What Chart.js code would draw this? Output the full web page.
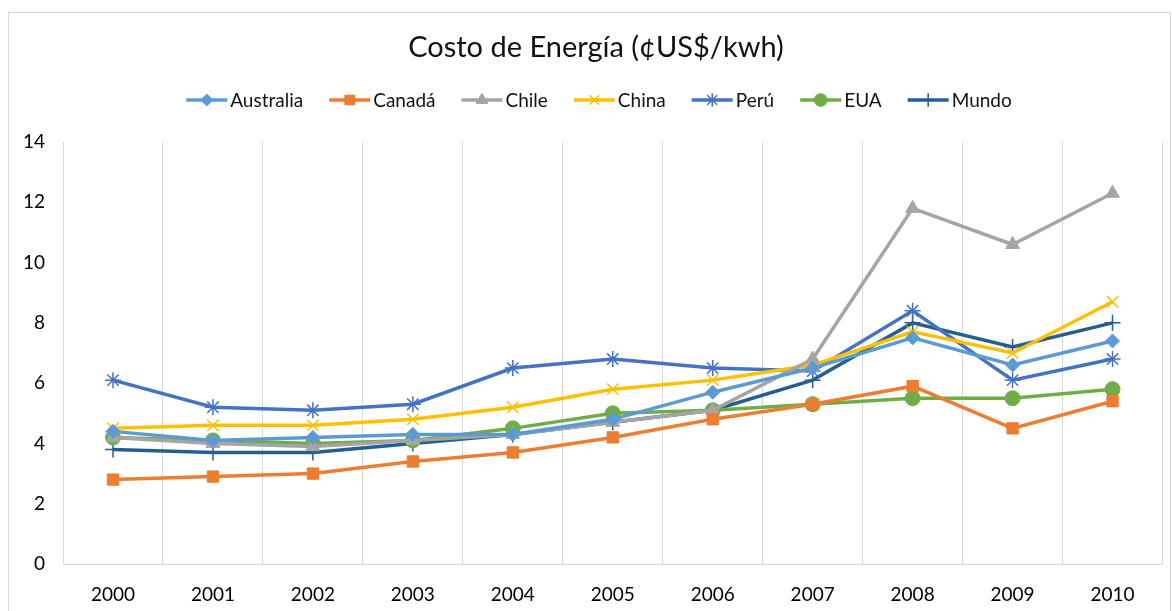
<!DOCTYPE html>
<html>
<head>
<meta charset="utf-8">
<script src="https://cdn.jsdelivr.net/npm/chart.js@4/dist/chart.umd.min.js"></script>
<style>
  html, body { margin: 0; padding: 0; background: #fff; }
  #wrap { position: relative; width: 1172px; height: 611px; }
</style>
</head>
<body>
<div id="wrap"><canvas id="c" width="1172" height="611"></canvas></div>
<script>
// Energy cost per country, cents of US$ per kWh
const years = ['2000','2001','2002','2003','2004','2005','2006','2007','2008','2009','2010'];
const australia = [4.4, 4.1, 4.2, 4.3, 4.3, 4.8, 5.7, 6.5, 7.5, 6.6, 7.4];
const canada    = [2.8, 2.9, 3.0, 3.4, 3.7, 4.2, 4.8, 5.3, 5.9, 4.5, 5.4];
const chile     = [4.2, 4.0, 3.9, 4.1, 4.3, 4.7, 5.1, 6.8, 11.8, 10.6, 12.3];
const china     = [4.5, 4.6, 4.6, 4.8, 5.2, 5.8, 6.1, 6.6, 7.7, 7.0, 8.7];
const peru      = [6.1, 5.2, 5.1, 5.3, 6.5, 6.8, 6.5, 6.4, 8.4, 6.1, 6.8];
const eua       = [4.2, 4.1, 4.0, 4.1, 4.5, 5.0, 5.1, 5.3, 5.5, 5.5, 5.8];
const mundo     = [3.8, 3.7, 3.7, 4.0, 4.3, 4.7, 5.1, 6.1, 8.0, 7.2, 8.0];
const yTicks    = [0, 2, 4, 6, 8, 10, 12, 14];

const FONT = 'Lato, "Open Sans", sans-serif';

function series(label, data, color, style, radius, bw) {
  return {
    label, data,
    borderColor: color,
    backgroundColor: color,
    pointBackgroundColor: color,
    pointBorderColor: color,
    pointStyle: style,
    pointRadius: radius,
    pointBorderWidth: bw,
    borderWidth: 3.5,
    tension: 0,
    fill: false
  };
}

const datasets = [
  series('Australia', australia, '#5B9BD5', 'rectRot', 7, 1),
  series('Canadá',   canada,    '#ED7D31', 'rect',    8, 1),
  series('Chile',    chile,     '#A5A5A5', 'triangle',8, 1),
  series('China',    china,     '#FFC000', 'crossRot',8, 1.5),
  series('Perú',     peru,      '#4472C4', 'star',    8, 1.5),
  series('EUA',      eua,       '#70AD47', 'circle',  7.5, 1),
  series('Mundo',    mundo,     '#255E91', 'cross',   8, 1.5)
];

// Frame, title and line-with-marker legend
const decor = {
  id: 'decor',
  beforeDraw(chart) {
    const ctx = chart.ctx;
    ctx.save();
    ctx.fillStyle = '#fff';
    ctx.fillRect(0, 0, chart.width, chart.height);
    ctx.strokeStyle = '#d9d9d9';
    ctx.lineWidth = 1;
    ctx.strokeRect(8.5, 12.5, 1162, 610);
    ctx.restore();
  },
  afterDraw(chart) {
    const ctx = chart.ctx;
    ctx.save();
    ctx.fillStyle = '#111';
    ctx.font = '29px ' + FONT;
    ctx.textAlign = 'center';
    ctx.textBaseline = 'middle';
    ctx.fillText('Costo de Energía (¢US$/kwh)', 596, 48);

    ctx.font = '19px ' + FONT;
    ctx.textAlign = 'left';
    const lineW = 41, gapT = 3, gapItem = 26;
    const items = chart.data.datasets.map(d => ({ d, w: ctx.measureText(d.label).width }));
    const total = items.reduce((s, it) => s + lineW + gapT + it.w, 0) + gapItem * (items.length - 1);
    let x = 599 - total / 2;
    const y = 100;
    items.forEach(({ d, w }) => {
      ctx.strokeStyle = d.borderColor;
      ctx.fillStyle = d.borderColor;
      ctx.lineWidth = 3.5;
      ctx.beginPath();
      ctx.moveTo(x, y);
      ctx.lineTo(x + lineW, y);
      ctx.stroke();
      ctx.lineWidth = d.pointBorderWidth;
      Chart.helpers.drawPoint(ctx, {
        pointStyle: d.pointStyle,
        radius: d.pointRadius * 0.85,
        rotation: 0,
        borderWidth: d.pointBorderWidth
      }, x + lineW / 2, y);
      ctx.fillStyle = '#111';
      ctx.fillText(d.label, x + lineW + gapT, y + 1);
      x += lineW + gapT + w + gapItem;
    });
    ctx.restore();
  }
};

new Chart(document.getElementById('c'), {
  type: 'line',
  data: { labels: years, datasets },
  plugins: [decor],
  options: {
    responsive: false,
    animation: false,
    layout: { padding: { top: 142, right: 9, bottom: 0, left: 0 } },
    plugins: {
      legend: { display: false },
      title: { display: false },
      tooltip: { enabled: false }
    },
    scales: {
      x: {
        offset: true,
        grid: { display: true, offset: true, color: '#d9d9d9', lineWidth: 1, drawTicks: false },
        border: { display: true, color: '#d9d9d9', width: 1 },
        ticks: { color: '#000', font: { family: FONT, size: 19 }, padding: 19, maxRotation: 0 },
        afterFit(scale) { scale.height = 47; }
      },
      y: {
        min: 0, max: 14,
        afterBuildTicks(scale) { scale.ticks = yTicks.map(v => ({ value: v })); },
        grid: { display: false, drawTicks: false },
        border: { display: false },
        ticks: { color: '#000', font: { family: FONT, size: 19 }, padding: 18 },
        afterFit(scale) { scale.width = 63; }
      }
    }
  }
});
</script>
</body>
</html>
